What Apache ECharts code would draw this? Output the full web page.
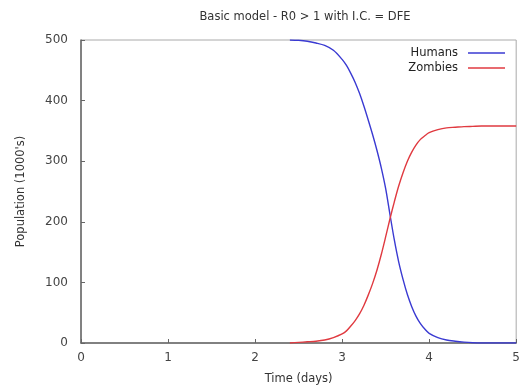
<!DOCTYPE html>
<html>
<head>
<meta charset="utf-8">
<script src="https://cdn.jsdelivr.net/npm/echarts@6/dist/echarts.min.js"></script>
<style>
html, body { margin: 0; padding: 0; background: #fff; }
#main { width: 523px; height: 390px; }
</style>
</head>
<body>
<div id="main"></div>
<script>
// values (time in days, population in 1000's)
var times   = [2.4, 2.5, 2.6, 2.7, 2.8, 2.9, 3.0, 3.05, 3.1, 3.15, 3.2, 3.25, 3.3, 3.35, 3.4, 3.45, 3.5, 3.55, 3.6, 3.65, 3.7, 3.75, 3.8, 3.85, 3.9, 3.95, 4.0, 4.1, 4.2, 4.3, 4.4, 4.5, 4.6, 4.8, 5.0];
var humans  = [500, 499.5, 498, 495, 491, 483, 468, 458, 445, 430, 412, 391, 368, 344, 318, 289, 255, 212, 170, 134, 105, 80, 60, 44, 32, 23, 16, 9, 5, 3, 1.5, 0.5, 0, 0, 0];
var zombies = [0, 1, 2, 3, 5, 9, 15, 20, 28, 37, 48, 62, 79, 98, 120, 146, 175, 205, 233, 259, 281, 300, 315, 327, 336, 342, 347, 352, 355, 356, 357, 357.5, 358, 358, 358];
var xTicks = [0, 1, 2, 3, 4, 5];
var yTicks = [0, 100, 200, 300, 400, 500];

function pairs(ys) {
    var out = [];
    for (var i = 0; i < times.length; i++) {
        out.push([times[i], ys[i]]);
    }
    return out;
}

var font = 'DejaVu Sans';
var myChart = echarts.init(document.getElementById('main'));
var option = {
    animation: false,
    backgroundColor: '#fff',
    title: {
        text: 'Basic model - R0 > 1 with I.C. = DFE',
        left: 300,
        top: 6,
        textAlign: 'center',
        textStyle: { fontFamily: font, fontSize: 11.5, fontWeight: 'normal', color: '#333' }
    },
    legend: {
        orient: 'vertical',
        right: 13,
        top: 42,
        align: 'right',
        icon: 'rect',
        itemWidth: 37,
        itemHeight: 1.5,
        itemGap: 3,
        textStyle: { fontFamily: font, fontSize: 11.5, color: '#222', padding: [0, 5, 0, 0] },
        data: ['Humans', 'Zombies']
    },
    grid: {
        left: 81,
        right: 3,
        top: 40,
        bottom: 46,
        show: true,
        borderColor: '#aaa',
        borderWidth: 1
    },
    xAxis: {
        type: 'value',
        min: xTicks[0],
        max: xTicks[xTicks.length - 1],
        interval: 1,
        name: 'Time (days)',
        nameLocation: 'middle',
        nameGap: 30,
        nameTextStyle: { fontFamily: font, fontSize: 11.5, color: '#333' },
        axisLine: { lineStyle: { color: '#666', width: 1.5 } },
        axisTick: { inside: true, length: 4, lineStyle: { color: '#666' } },
        axisLabel: { fontFamily: font, fontSize: 12, color: '#444', margin: 9 },
        splitLine: { show: false }
    },
    yAxis: {
        type: 'value',
        min: yTicks[0],
        max: yTicks[yTicks.length - 1],
        interval: 100,
        name: "Population (1000's)",
        nameLocation: 'middle',
        nameGap: 54,
        nameTextStyle: { fontFamily: font, fontSize: 11.5, color: '#333' },
        axisLine: { show: true, lineStyle: { color: '#666', width: 1.5 } },
        axisTick: { show: true, inside: true, length: 4, lineStyle: { color: '#666' } },
        axisLabel: { fontFamily: font, fontSize: 12, color: '#444', margin: 13 },
        splitLine: { show: false }
    },
    series: [
        {
            name: 'Humans',
            type: 'line',
            data: pairs(humans),
            smooth: 0.3,
            showSymbol: false,
            color: '#3a3ad2',
            lineStyle: { width: 1.4 }
        },
        {
            name: 'Zombies',
            type: 'line',
            data: pairs(zombies),
            smooth: 0.3,
            showSymbol: false,
            color: '#e03a40',
            lineStyle: { width: 1.4 }
        }
    ]
};
myChart.setOption(option);
</script>
</body>
</html>
